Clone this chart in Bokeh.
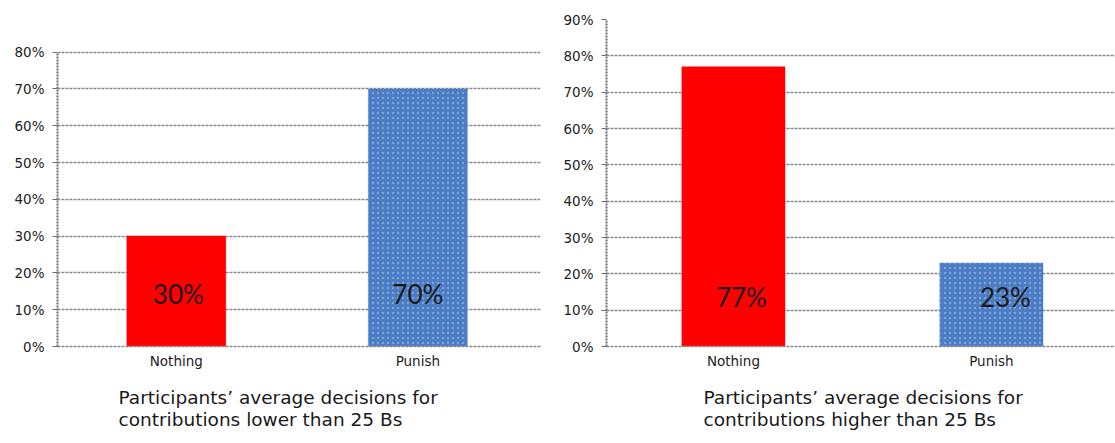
from bokeh.plotting import figure
from bokeh.layouts import row
from bokeh.models import (ColumnDataSource, Range1d, FixedTicker,
                          PrintfTickFormatter, LabelSet, Title)
from bokeh.core.properties import value
from bokeh.embed import file_html
from bokeh.resources import INLINE

# Decision shares (percent of participants)
categories = ["Nothing", "Punish"]
low_shares = [30, 70]     # contributions lower than 25 Bs
high_shares = [77, 23]    # contributions higher than 25 Bs
low_caption = ["Participants\u2019 average decisions for",
               "contributions lower than 25 Bs"]
high_caption = ["Participants\u2019 average decisions for",
                "contributions higher than 25 Bs"]

BAR_COLORS = ["#ff0000", "#4b7dc4"]
GRID = "#8a8a8a"
FONT = "DejaVu Sans"


def panel(shares, caption, caption_dx, width, border_left, border_right,
          y_top, y_axis_max, x_start, x_end, bar_width, label_dx, label_y):
    xs = [i + 0.5 for i in range(len(categories))]
    src = ColumnDataSource(dict(
        x=xs, top=shares, color=BAR_COLORS,
        hatch=[" ", "."],
        text=[f"{v}%" for v in shares],
        ty=[label_y] * len(shares),
        dx=label_dx,
    ))
    p = figure(width=width, height=443, output_backend="svg",
               toolbar_location=None,
               x_range=Range1d(x_start, x_end),
               y_range=Range1d(0, y_top),
               min_border_left=border_left, min_border_right=border_right,
               min_border_top=19, min_border_bottom=93)
    p.outline_line_color = None
    p.background_fill_color = "white"
    p.border_fill_color = "white"

    p.vbar(x="x", top="top", width=bar_width, bottom=0, source=src,
           fill_color="color", line_color="color", line_alpha=0.4,
           hatch_pattern="hatch", hatch_color="#c4d6f2", hatch_alpha=0.4,
           hatch_scale=5, hatch_weight=1)

    p.add_layout(LabelSet(x="x", y="ty", text="text", x_offset="dx",
                          source=src, text_align="center",
                          text_baseline="middle", text_font_size="26px",
                          text_font=value("Lato"), text_color="#1a1a1a"))

    # y axis, stopping at the highest labelled level
    p.yaxis.ticker = FixedTicker(ticks=list(range(0, y_axis_max + 1, 10)))
    p.yaxis.bounds = (0, y_axis_max)
    p.yaxis.formatter = PrintfTickFormatter(format="%d%%")
    p.yaxis.axis_line_color = "#6f6f6f"
    p.yaxis.axis_line_width = 2
    p.yaxis.axis_line_dash = "2 1"
    p.yaxis.major_tick_out = 5
    p.yaxis.major_tick_in = 0
    p.yaxis.major_tick_line_color = "#6f6f6f"
    p.yaxis.minor_tick_line_color = None
    p.yaxis.major_label_standoff = 8
    p.yaxis.major_label_text_font = FONT
    p.yaxis.major_label_text_font_size = "13.5px"
    p.yaxis.major_label_text_color = "#222222"

    # x axis
    p.xaxis.ticker = FixedTicker(ticks=xs)
    p.xaxis.major_label_overrides = {x: c for x, c in zip(xs, categories)}
    p.xaxis.axis_line_color = GRID
    p.xaxis.axis_line_width = 1.5
    p.xaxis.axis_line_dash = "3 1"
    p.xaxis.major_tick_line_color = None
    p.xaxis.major_tick_out = 0
    p.xaxis.major_tick_in = 0
    p.xaxis.minor_tick_line_color = None
    p.xaxis.major_label_standoff = 6
    p.xaxis.major_label_text_font = FONT
    p.xaxis.major_label_text_font_size = "13.5px"
    p.xaxis.major_label_text_color = "#222222"

    p.xgrid.grid_line_color = None
    p.ygrid.grid_line_color = GRID
    p.ygrid.grid_line_width = 1.5
    p.ygrid.grid_line_dash = "3 1"

    # two-line caption under the chart
    p.add_layout(Title(text="\n".join(caption), align="left",
                       offset=caption_dx, standoff=27,
                       text_font=FONT, text_font_size="18.5px",
                       text_font_style="normal", text_line_height=1.05,
                       text_color="#1a1a1a"), "below")
    return p


# left chart: 80% sits 33 px below the shared frame top (331 px frame)
left_top = 80 + 33 * 80 / 298
left = panel(low_shares, low_caption, 61, width=557, border_left=57,
             border_right=17, y_top=left_top, y_axis_max=80, x_start=0.008,
             x_end=2.008, bar_width=0.41, label_dx=[2, 0], label_y=14.4)
right = panel(high_shares, high_caption, 97, width=558, border_left=49,
              border_right=0, y_top=90, y_axis_max=90, x_start=0.008,
              x_end=1.981, bar_width=0.40, label_dx=[8, 14], label_y=13.6)

layout = row(left, right)
open("out.html", "w").write(file_html(layout, INLINE))
